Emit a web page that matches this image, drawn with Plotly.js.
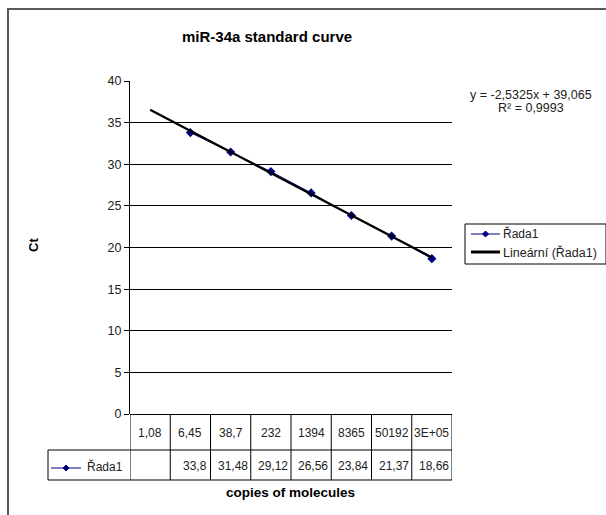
<!DOCTYPE html>
<html>
<head>
<meta charset="utf-8">
<script src="https://cdn.plot.ly/plotly-3.0.1.min.js"></script>
<style>html,body{margin:0;padding:0;background:#fff;}</style>
</head>
<body>
<div id="chart" style="width:606px;height:515px;"></div>
<script>
// ---- data ----
const categories = ["1,08","6,45","38,7","232","1394","8365","50192","3E+05"];
const ctValues = [null, 33.8, 31.48, 29.12, 26.56, 23.84, 21.37, 18.66];
const seriesName = "Řada1";
const trendName = "Lineární (Řada1)";
const equationText = "y = -2,5325x + 39,065";
const r2Text = "R² = 0,9993";
const yTicks = [0, 5, 10, 15, 20, 25, 30, 35, 40];

// ---- layout geometry (pixels) ----
const W = 606, H = 515;
const L = 130, R = 452, T = 81, B = 414;
const px = v => (v - L) / (R - L);
const py = v => (B - v) / (B - T);

const xIdx = categories.map((_, i) => i + 1);

// least-squares trendline from the data
const pts = xIdx.map((x, i) => [x, ctValues[i]]).filter(p => p[1] !== null);
const n = pts.length;
const mx = pts.reduce((s, p) => s + p[0], 0) / n;
const my = pts.reduce((s, p) => s + p[1], 0) / n;
const slope = pts.reduce((s, p) => s + (p[0] - mx) * (p[1] - my), 0) /
              pts.reduce((s, p) => s + (p[0] - mx) ** 2, 0);
const icpt = my - slope * mx;
const trendX = [xIdx[0], xIdx[xIdx.length - 1]];
const trendY = trendX.map(x => icpt + slope * x);

const fmt = v => String(v).replace(".", ",");
const font = "Liberation Sans, Arial, sans-serif";

const traces = [
  {
    x: xIdx, y: ctValues, name: seriesName, type: "scatter", mode: "lines+markers",
    line: {color: "#000080", width: 1},
    marker: {symbol: "diamond", size: 7, color: "#000080"},
    connectgaps: false
  },
  {
    x: trendX, y: trendY, name: trendName, type: "scatter", mode: "lines",
    line: {color: "#000000", width: 2.3}
  }
];

const shapes = [];
const annotations = [];
const lineStyle = {color: "#000", width: 1};

// outer chart border
shapes.push({type: "rect", xref: "paper", yref: "paper",
  x0: px(8), x1: px(620), y0: py(9), y1: py(530),
  line: {color: "#5a5a5a", width: 2}});

// data table lines
const rowMid = 450, rowBot = 480, tableLeft = 48;
shapes.push({type: "line", xref: "paper", yref: "paper", x0: px(tableLeft), x1: 1, y0: py(rowMid), y1: py(rowMid), line: lineStyle});
shapes.push({type: "line", xref: "paper", yref: "paper", x0: px(tableLeft), x1: 1, y0: py(rowBot), y1: py(rowBot), line: lineStyle});
shapes.push({type: "line", xref: "paper", yref: "paper", x0: px(tableLeft), x1: px(tableLeft), y0: py(rowMid), y1: py(rowBot), line: lineStyle});
for (let i = 0; i <= categories.length; i++) {
  shapes.push({type: "line", xref: "x", yref: "paper", x0: i + 0.5, x1: i + 0.5,
    y0: 0, y1: py(rowBot), line: lineStyle});
}
// legend key inside the table
function diamond(cx, cy, r) {
  return `M ${px(cx)} ${py(cy - r)} L ${px(cx + r)} ${py(cy)} L ${px(cx)} ${py(cy + r)} L ${px(cx - r)} ${py(cy)} Z`;
}
shapes.push({type: "line", xref: "paper", yref: "paper", x0: px(51), x1: px(81), y0: py(468), y1: py(468),
  line: {color: "#000080", width: 1}});
shapes.push({type: "path", xref: "paper", yref: "paper", path: diamond(66, 468, 3),
  fillcolor: "#000080", line: {color: "#000080", width: 1}});

// custom legend box
shapes.push({type: "rect", xref: "paper", yref: "paper", x0: px(465), x1: px(606), y0: py(224), y1: py(264),
  line: {color: "#000", width: 1}, fillcolor: "#fff"});
shapes.push({type: "line", xref: "paper", yref: "paper", x0: px(471), x1: px(500), y0: py(234), y1: py(234),
  line: {color: "#000080", width: 1}});
shapes.push({type: "path", xref: "paper", yref: "paper", path: diamond(485.5, 234, 3),
  fillcolor: "#000080", line: {color: "#000080", width: 1}});
shapes.push({type: "line", xref: "paper", yref: "paper", x0: px(471), x1: px(500), y0: py(252), y1: py(252),
  line: {color: "#000", width: 3}});
annotations.push({xref: "paper", yref: "paper", x: px(501), y: py(233), text: seriesName, showarrow: false,
  xanchor: "left", yanchor: "middle", font: {family: font, size: 12, color: "#222"}});
annotations.push({xref: "paper", yref: "paper", x: px(501), y: py(252), text: trendName, showarrow: false,
  xanchor: "left", yanchor: "middle", font: {family: font, size: 12.5, color: "#222"}});

// table text
categories.forEach((c, i) => {
  annotations.push({xref: "x", yref: "paper", x: xIdx[i], y: py(433), text: c, showarrow: false,
    xanchor: "center", yanchor: "middle", font: {family: font, size: 12, color: "#222"}});
  if (ctValues[i] !== null) {
    annotations.push({xref: "x", yref: "paper", x: xIdx[i] + 0.47, y: py(466), text: fmt(ctValues[i]), showarrow: false,
      xanchor: "right", yanchor: "middle", font: {family: font, size: 12, color: "#222"}});
  }
});
annotations.push({xref: "paper", yref: "paper", x: px(85), y: py(466), text: seriesName, showarrow: false,
  xanchor: "left", yanchor: "middle", font: {family: font, size: 12, color: "#222"}});

// titles
annotations.push({xref: "paper", yref: "paper", x: px(267), y: py(36), text: "<b>miR-34a standard curve</b>", showarrow: false,
  xanchor: "center", yanchor: "middle", font: {family: font, size: 15, color: "#000"}});
annotations.push({xref: "paper", yref: "paper", x: px(290), y: py(492), text: "<b>copies of molecules</b>", showarrow: false,
  xanchor: "center", yanchor: "middle", font: {family: font, size: 13.5, color: "#000"}});
annotations.push({xref: "paper", yref: "paper", x: px(33), y: py(245), text: "<b>Ct</b>", showarrow: false, textangle: -90,
  xanchor: "center", yanchor: "middle", font: {family: font, size: 13, color: "#000"}});

// equation
annotations.push({xref: "paper", yref: "paper", x: px(531), y: py(95), text: equationText, showarrow: false,
  xanchor: "center", yanchor: "middle", font: {family: font, size: 12.5, color: "#222"}});
annotations.push({xref: "paper", yref: "paper", x: px(531), y: py(108), text: r2Text, showarrow: false,
  xanchor: "center", yanchor: "middle", font: {family: font, size: 12.5, color: "#222"}});

const layout = {
  width: W, height: H,
  margin: {l: L, r: W - R, t: T, b: H - B, pad: 0},
  paper_bgcolor: "#fff", plot_bgcolor: "#fff",
  showlegend: false,
  xaxis: {range: [0.5, categories.length + 0.5], showgrid: false, zeroline: false,
    showticklabels: false, ticks: "", showline: false, fixedrange: true},
  yaxis: {range: [0, 40], tickvals: yTicks, ticks: "outside", ticklen: 5, tickcolor: "#000",
    showgrid: true, gridcolor: "#000", gridwidth: 1, zeroline: true, zerolinecolor: "#000", zerolinewidth: 1,
    showline: true, linecolor: "#000", linewidth: 1,
    tickfont: {family: font, size: 12.5, color: "#222"}, fixedrange: true},
  shapes: shapes,
  annotations: annotations
};

Plotly.newPlot("chart", traces, layout, {displayModeBar: false, staticPlot: true});
</script>
</body>
</html>
